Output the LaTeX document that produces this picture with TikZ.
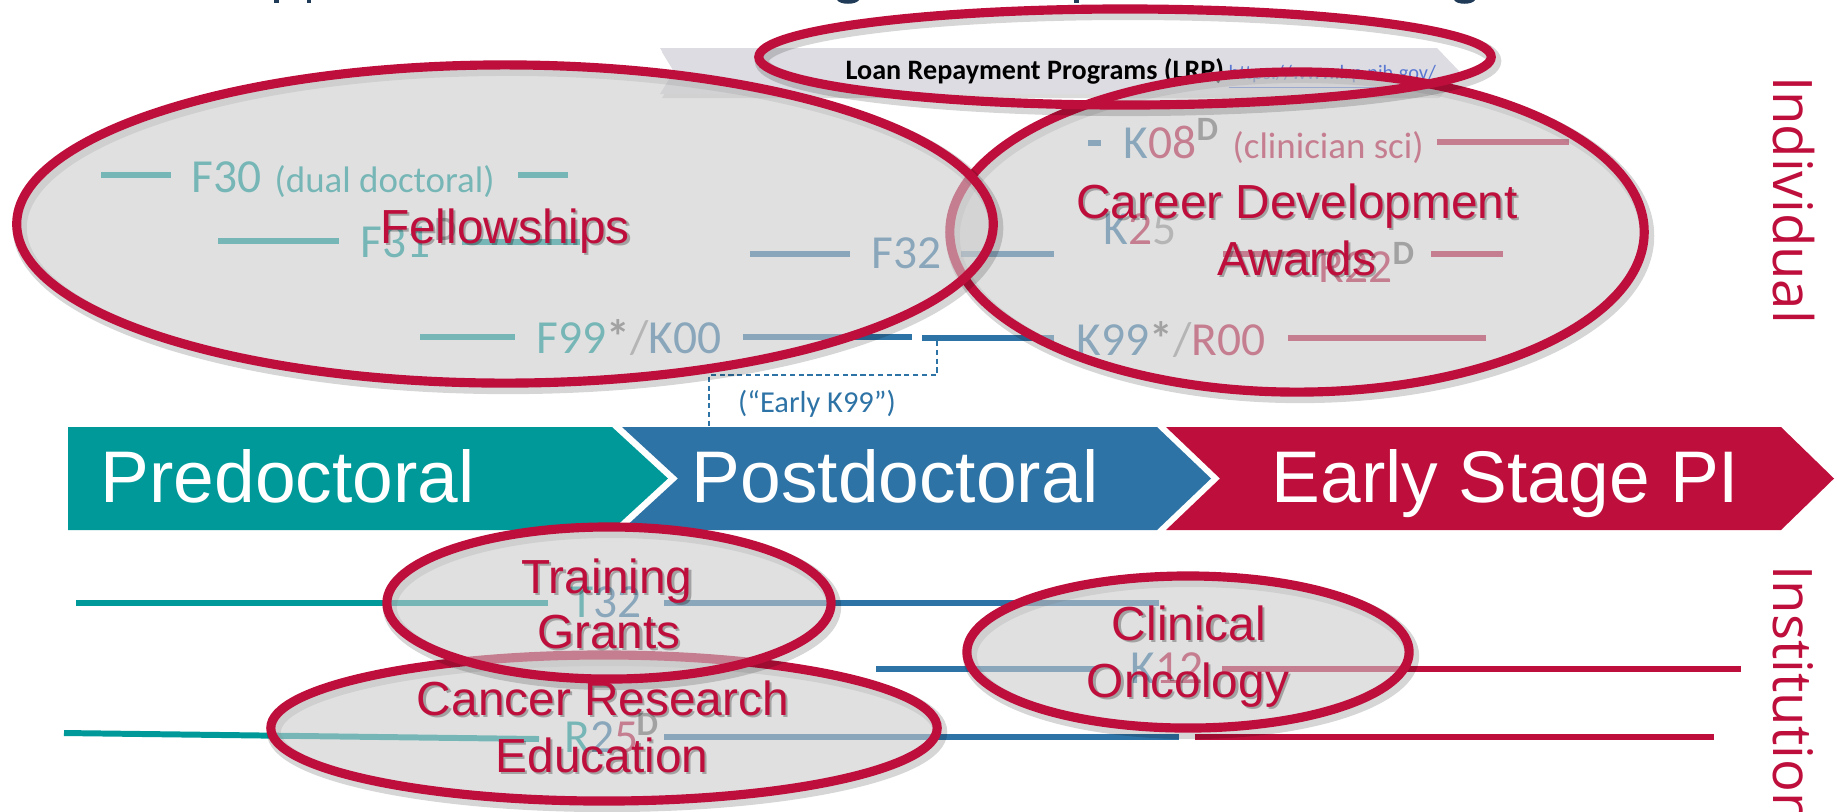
\documentclass[tikz,border=0pt]{standalone}
\usepackage{fontspec}
\setmainfont{Liberation Sans}
\newfontfamily\carl{Carlito}
\newfontfamily\osf{Open Sans}
\definecolor{tealc}{RGB}{0,153,153}
\definecolor{bluec}{RGB}{46,115,166}
\definecolor{redc}{RGB}{190,15,60}
\definecolor{darkg}{RGB}{105,105,105}
\definecolor{lightg}{RGB}{150,150,150}
\definecolor{ellfill}{RGB}{203,203,203}
\definecolor{bannerg}{RGB}{220,220,226}
\definecolor{navy}{RGB}{31,59,87}
\definecolor{urlc}{RGB}{90,120,210}
\tikzset{
 seg/.style={line width=1.7pt},
 lab/.style={inner sep=0pt, anchor=base west, font=\carl\fontsize{13.5}{16}\selectfont},
 smalllab/.style={inner sep=0pt, anchor=base west, font=\carl\fontsize{10.5}{12}\selectfont},
 suplab/.style={inner sep=0pt, anchor=base west, font=\carl\bfseries\fontsize{9.7}{11}\selectfont, text=darkg},
 ell/.style={draw=redc, line width=2.6pt, fill=ellfill, fill opacity=0.59},
 ellshadow/.style={draw=black, line width=4pt, draw opacity=0.16},
 redlab/.style={inner sep=0pt, anchor=base, text=redc, font=\fontsize{13.6}{16}\selectfont},
 redshadow/.style={inner sep=0pt, anchor=base, text=black, text opacity=0.28, font=\fontsize{13.6}{16}\selectfont},
 stage/.style={inner sep=0pt, anchor=base west, text=white, font=\fontsize{20.8}{24}\selectfont},
 side/.style={inner sep=0pt, rotate=-90, text=redc, font=\osf\fontsize{15.5}{18}\selectfont},
}
\newcommand{\rlab}[4]{\node[redshadow, xshift=0.6pt, yshift=-0.8pt] (#1s) at (#2,#3) {#4}; \node[redlab] (#1) at (#2,#3) {#4};}
\begin{document}
\begin{tikzpicture}[x=0.01cm, y=-0.01cm]
\useasboundingbox (0,0) rectangle (1837,811);
\clip (0,0) rectangle (1837,811);
% cut-off title descenders
\fill[navy] (274,0) rectangle (279,3);
\fill[navy] (307,0) rectangle (311,3);
\fill[navy] (1074,0) rectangle (1079,3);
\fill[navy] (837,0) .. controls (840,5) and (856,5) .. (859,0) -- cycle;
\fill[navy] (1454,0) .. controls (1457,5) and (1472,5) .. (1475,0) -- cycle;

% stage chevrons
\fill[tealc] (68,427) -- (612,427) -- (668,478.5) -- (612,530) -- (68,530) -- cycle;
\fill[bluec] (622,427) -- (1157,427) -- (1211,478.5) -- (1157,530) -- (622,530) -- (678,478.5) -- cycle;
\fill[redc] (1166,427) -- (1781,427) -- (1834,478.5) -- (1781,530) -- (1166,530) -- (1220,478.5) -- cycle;
\node[stage] (pre) at (100,502) {Predoctoral};
\node[stage] (post) at (691,502) {Postdoctoral};
\node[stage] (esi) at (1271,502) {Early Stage PI};

% individual rows
\draw[seg, tealc] (101,175) -- (171,175);
\node[lab, text=tealc] (f30) at (191,192) {F30};
\node[smalllab, text=tealc] (f30d) at (274,192) {(dual doctoral)};
\draw[seg, tealc] (518,175) -- (568,175);

\draw[seg, tealc] (218,241) -- (339,241);
\node[lab, text=tealc] (f31) at (360,257) {F31};
\node[suplab] (f31s) at (434,240) {D};
\draw[seg, tealc] (462,242) -- (580,242);

\draw[seg, bluec] (750,254) -- (850,254);
\node[lab, text=bluec] (f32) at (871,268) {F32};
\draw[seg, bluec] (961,254) -- (1054,254);

\node[lab] (k25) at (1103,244) {\textcolor{bluec}{K}\textcolor{redc}{2}\textcolor{lightg}{5}};

\draw[seg, bluec] (1088,143) -- (1101,143);
\node[lab] (k08) at (1123,158) {\textcolor{bluec}{K}\textcolor{redc}{08}};
\node[suplab] (k08s) at (1196,140) {D};
\node[smalllab, text=redc] (k08d) at (1232,158) {(clinician sci)};
\draw[seg, redc] (1437,142) -- (1569,142);

\draw[seg, redc] (1223,254) -- (1310,254);
\node[lab, text=redc] (r22) at (1318,282) {R22};
\node[suplab] (r22s) at (1392,264) {D};
\draw[seg, redc] (1431,254) -- (1503,254);

\draw[seg, tealc] (420,337) -- (515,337);
\node[lab] (f99) at (536,353) {\textcolor{tealc}{F99}\textcolor{darkg}{\bfseries *}\textcolor{lightg}{/}\textcolor{bluec}{K00}};
\draw[seg, bluec] (743,337) -- (912,337);
\draw[seg, bluec] (922,338) -- (1054,338);
\coordinate (dk1) at (937,341);
\coordinate (dk2) at (709,427);
\draw[bluec, line width=0.45pt, dash pattern=on 1.5pt off 1pt] (dk1) -- (937,375) -- (709,375) -- (dk2);
\node[inner sep=0pt, text=bluec, font=\carl\fontsize{8.65}{10}\selectfont] (ek) at (817,404) {(“Early K99”)};

\node[lab] (k99) at (1076,355) {\textcolor{bluec}{K99}\textcolor{darkg}{\bfseries *}\textcolor{lightg}{/}\textcolor{redc}{R00}};
\draw[seg, redc] (1288,338) -- (1486,338);

% institutional rows
\draw[seg, tealc] (76,603) -- (548,603);
\node[lab] (t32) at (570,617) {\textcolor{tealc}{T}\textcolor{bluec}{32}};
\draw[seg, bluec] (664,603) -- (1159,603);

\draw[seg, bluec] (876,669) -- (1096,669);
\node[lab] (k12) at (1130,683) {\textcolor{bluec}{K}\textcolor{redc}{12}};
\draw[seg, redc] (1222,669) -- (1741,669);

\draw[seg, tealc] (64,733) -- (539,739);
\node[lab] (r25) at (564,752) {\textcolor{tealc}{R}\textcolor{bluec}{2}\textcolor{redc}{5}};
\node[suplab] (r25s) at (636,735) {D};
\draw[seg, bluec] (664,737) -- (1179,737);
\draw[seg, redc] (1195,737) -- (1714,737);

% LRP banner
\fill[black, opacity=0.14] (662,52) -- (1439,52) -- (1461,75) -- (1439,98) -- (662,98) -- (676,75) -- cycle;
\fill[bannerg] (660,48) -- (1437,48) -- (1459,71) -- (1437,94) -- (660,94) -- (674,71) -- cycle;
\node[inner sep=0pt, anchor=base west, font=\carl\bfseries\fontsize{8}{9}\selectfont] (lrp) at (845,79) {Loan Repayment Programs (LRP)};
\node[inner sep=0pt, anchor=base west, text=urlc, font=\carl\fontsize{5.8}{7}\selectfont] (url) at (1228,79) {\underline{https://www.lrp.nih.gov/}};

% ellipses
\draw[ellshadow] (607,732) ellipse [x radius=3.33cm, y radius=0.73cm];
\draw[ell] (604,728) ellipse [x radius=3.33cm, y radius=0.73cm];
\draw[ellshadow] (612,607) ellipse [x radius=2.22cm, y radius=0.76cm];
\draw[ell] (609,603) ellipse [x radius=2.22cm, y radius=0.76cm];
\draw[ellshadow] (1191,656) ellipse [x radius=2.21cm, y radius=0.76cm];
\draw[ell] (1188,652) ellipse [x radius=2.21cm, y radius=0.76cm];
\draw[ellshadow] (1300,236) ellipse [x radius=3.47cm, y radius=1.60cm];
\draw[ell] (1297,232) ellipse [x radius=3.47cm, y radius=1.60cm];
\draw[ellshadow] (508,228) ellipse [x radius=4.88cm, y radius=1.59cm];
\draw[ell] (505,224) ellipse [x radius=4.88cm, y radius=1.59cm];
\draw[ellshadow] (1128,61) ellipse [x radius=3.66cm, y radius=0.48cm];
\draw[redc, line width=2.6pt] (1125,57) ellipse [x radius=3.66cm, y radius=0.48cm];

% red labels
\rlab{fel}{505}{243}{Fellowships}
\rlab{cda}{1297}{218}{Career Development}
\rlab{cdb}{1297}{275}{Awards}
\rlab{tga}{607}{593}{Training}
\rlab{tgb}{609}{648}{Grants}
\rlab{cra}{603}{715}{Cancer Research}
\rlab{crb}{602}{772}{Education}
\rlab{coa}{1189}{640}{Clinical}
\rlab{cob}{1188}{697}{Oncology}

% side labels
\node[side, anchor=base] (indiv) at (1773,200) {Individual};
\node[side, anchor=base west] (inst) at (1773,565) {Institutional};
\end{tikzpicture}
\end{document}
